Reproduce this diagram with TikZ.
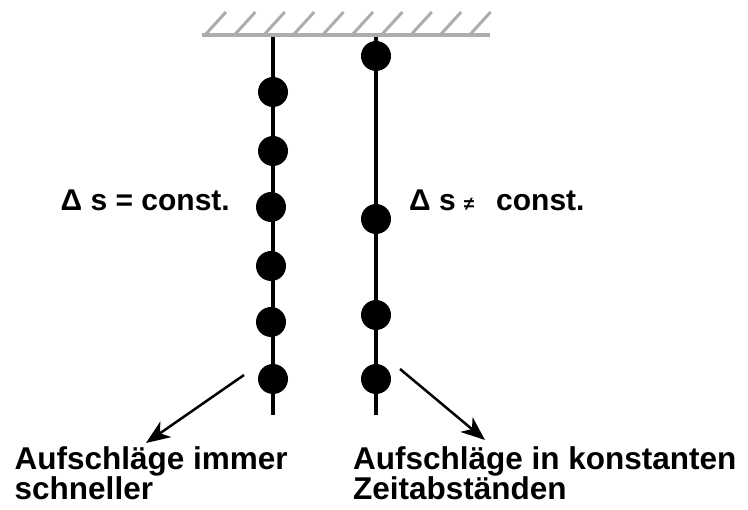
\documentclass[tikz,border=0pt]{standalone}
\usepackage{fontspec}
\setmainfont{Liberation Sans}
\usetikzlibrary{arrows.meta}
\definecolor{ceilgray}{HTML}{ADADAD}
\begin{document}
\begin{tikzpicture}[x=1pt,y=-1pt,
  dotnode/.style={circle,fill=black,inner sep=0pt,minimum size=30pt},
  stringline/.style={line width=4pt},
  ceilline/.style={line width=4pt,draw=ceilgray},
  hatchline/.style={line width=3pt,draw=ceilgray},
  lbl/.style={font=\fontsize{30}{30}\selectfont\bfseries,inner sep=0pt},
  txt/.style={font=\fontsize{31.5}{31.5}\selectfont\bfseries,inner sep=0pt},
  arr/.style={line width=2.5pt,-{Stealth[length=24pt,width=19pt,inset=7pt]}}]
\useasboundingbox (0,0) rectangle (748,510);
% ceiling
\coordinate (c1) at (202,35);
\coordinate (c2) at (490,35);
\foreach \i in {0,...,9}{
  \draw[hatchline] ({205+29.4*\i},35) -- ({226+29.4*\i},12);
}
\draw[ceilline] (c1) -- (c2);
% strings
\coordinate (ltop) at (273,37);
\coordinate (lbot) at (273,415);
\coordinate (rtop) at (376,37);
\coordinate (rbot) at (376,415);
\draw[stringline] (ltop) -- (lbot);
\draw[stringline] (rtop) -- (rbot);
% left dots
\node[dotnode] (l1) at (273,92) {};
\node[dotnode] (l2) at (273,151) {};
\node[dotnode] (l3) at (271,207) {};
\node[dotnode] (l4) at (271,266) {};
\node[dotnode] (l5) at (271,322) {};
\node[dotnode] (l6) at (273,379) {};
% right dots
\node[dotnode] (r1) at (376,56) {};
\node[dotnode] (r2) at (376,219) {};
\node[dotnode] (r3) at (376,315) {};
\node[dotnode] (r4) at (376,379) {};
% labels
\node[lbl,anchor=base east] (dl) at (230,211) {Δ s = const.};
\node[lbl,anchor=base west] (dr) at (409,211) {Δ s\hspace{8pt}{\fontsize{19}{19}\selectfont ≠}\hspace{22pt}const.};
\node[txt,anchor=base east] (ta1) at (288,470) {Aufschläge immer};
\node[txt,anchor=base west] (ta2) at ([yshift=-30pt]ta1.base west) {schneller};
\node[txt,anchor=base west] (tb1) at (353,470) {Aufschläge in konstanten};
\node[txt,anchor=base west] (tb2) at ([yshift=-30pt]tb1.base west) {Zeitabständen};
% arrows
\coordinate (as) at (244,375);
\coordinate (ae) at (146,443);
\coordinate (bs) at (400,369);
\coordinate (be) at (485,440);
\draw[arr] (as) -- (ae);
\draw[arr] (bs) -- (be);
\end{tikzpicture}
\end{document}
